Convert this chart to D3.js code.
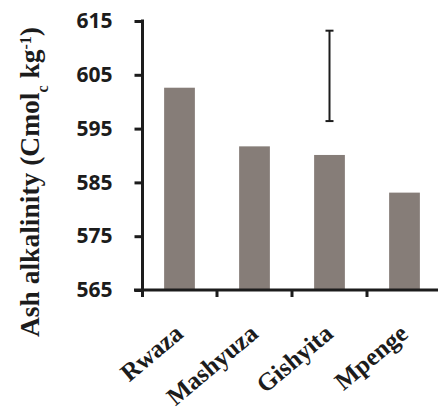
<!DOCTYPE html>
<html>
<head>
<meta charset="utf-8">
<script src="https://cdn.jsdelivr.net/npm/d3@7"></script>
<style>
  html, body { margin: 0; padding: 0; background: #fff; }
  svg { display: block; }
</style>
</head>
<body>
<svg id="chart" width="438" height="419"></svg>
<script>
const categories = ["Rwaza", "Mashyuza", "Gishyita", "Mpenge"];
const values = [602.6, 591.7, 590.1, 583.1];
const errorLow = [null, null, 596.4, null];
const errorHigh = [null, null, 613.2, null];
const yTicks = [565, 575, 585, 595, 605, 615];

const svg = d3.select("#chart");
const ink = "#1c1c1c";

const y = d3.scaleLinear().domain([565, 615]).range([290, 21]);
const x = d3.scaleBand().domain(categories).range([142, 442]).padding(0);
const barW = x.bandwidth() * 0.41;

// bars
svg.append("g").selectAll("rect")
  .data(categories)
  .join("rect")
  .attr("x", (d) => x(d) + x.bandwidth() / 2 - barW / 2)
  .attr("y", (d, i) => y(values[i]))
  .attr("width", barW)
  .attr("height", (d, i) => y(565) - y(values[i]))
  .attr("fill", "#867d78");

// error bars
const eb = svg.append("g").attr("stroke", ink).attr("stroke-width", 2);
categories.forEach((c, i) => {
  if (errorLow[i] == null) return;
  const cx = x(c) + x.bandwidth() / 2;
  eb.append("line").attr("x1", cx).attr("x2", cx).attr("y1", y(errorHigh[i])).attr("y2", y(errorLow[i]));
  eb.append("line").attr("x1", cx - 4).attr("x2", cx + 4).attr("y1", y(errorHigh[i])).attr("y2", y(errorHigh[i]));
  eb.append("line").attr("x1", cx - 4).attr("x2", cx + 4).attr("y1", y(errorLow[i])).attr("y2", y(errorLow[i]));
});

// y axis
const yAxis = svg.append("g")
  .attr("transform", "translate(142.5,0)")
  .call(d3.axisLeft(y).tickValues(yTicks).tickSize(8).tickSizeOuter(0).tickPadding(22));
yAxis.select(".domain").remove();
yAxis.selectAll(".tick line").attr("stroke", ink).attr("stroke-width", 3);
yAxis.selectAll(".tick text")
  .attr("fill", ink)
  .style("font-family", "'Open Sans', sans-serif")
  .style("font-weight", "700")
  .style("font-size", "21px");
yAxis.append("line")
  .attr("x1", 0).attr("x2", 0)
  .attr("y1", y(615) - 1.5).attr("y2", y(565) + 7)
  .attr("stroke", ink).attr("stroke-width", 3);

// x axis
const xAxis = svg.append("g").attr("transform", "translate(0,290)");
xAxis.append("line")
  .attr("x1", 134).attr("x2", 442)
  .attr("y1", 0).attr("y2", 0)
  .attr("stroke", ink).attr("stroke-width", 3);
xAxis.selectAll("line.tk")
  .data(categories.slice(1))
  .join("line")
  .attr("class", "tk")
  .attr("x1", (d) => x(d)).attr("x2", (d) => x(d))
  .attr("y1", 0).attr("y2", 7)
  .attr("stroke", ink).attr("stroke-width", 3);
xAxis.selectAll("text.lab")
  .data(categories)
  .join("text")
  .attr("class", "lab")
  .attr("transform", (d) => "translate(" + (x(d) + x.bandwidth() / 2 + 5) + ",46) rotate(-40)")
  .attr("text-anchor", "end")
  .attr("fill", ink)
  .style("font-family", "'Liberation Serif', 'Times New Roman', serif")
  .style("font-weight", "700")
  .style("font-size", "25px")
  .text((d) => d);

// y label
const yl = svg.append("text")
  .attr("transform", "translate(39,182) rotate(-90)")
  .attr("text-anchor", "middle")
  .attr("fill", ink)
  .style("font-family", "'Liberation Serif', 'Times New Roman', serif")
  .style("font-weight", "700")
  .style("font-size", "27.5px");
yl.append("tspan").text("Ash alkalinity (Cmol");
yl.append("tspan").attr("baseline-shift", "sub").style("font-size", "16px").text("c");
yl.append("tspan").text(" kg");
yl.append("tspan").attr("baseline-shift", "super").style("font-size", "16px").text("-1");
yl.append("tspan").text(")");
</script>
</body>
</html>
